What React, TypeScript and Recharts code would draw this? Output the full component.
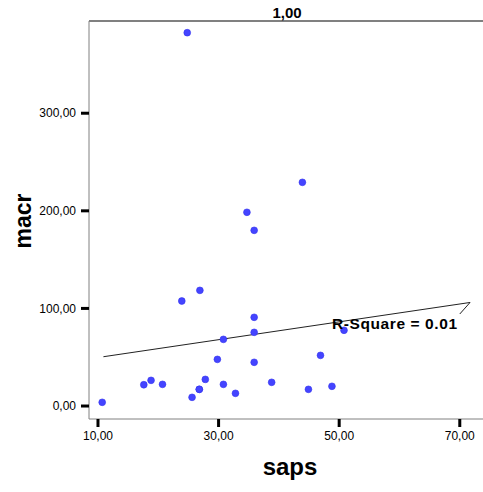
import React from "react";
import {
  ScatterChart,
  Scatter,
  XAxis,
  YAxis,
  ReferenceLine,
} from "recharts";

// saps / macr pairs
const sapsValues = [10.7, 17.6, 18.8, 20.7, 25.6, 26.8, 26.8, 27.8, 29.8, 30.8, 30.8, 32.8, 35.9, 35.9, 35.9, 38.8, 44.9, 46.9, 48.8, 50.8, 23.9, 24.8, 43.9, 34.7, 35.9, 26.9];
const macrValues = [3.8, 21.8, 26.3, 22.2, 8.9, 17.1, 17.1, 27.3, 47.8, 68.3, 22.2, 13.0, 90.9, 75.5, 44.8, 24.3, 17.1, 51.9, 20.2, 77.6, 107.6, 382.5, 229.2, 198.5, 180.0, 118.5];

const xTicks = [10, 30, 50, 70];
const yTicks = [0, 100, 200, 300];

// linear fit line ends and the leader to the R-Square label
const fitLine = [
  { x: 10.9, y: 50.5 },
  { x: 71.7, y: 106.1 },
];
const leaderLine = [
  { x: 71.7, y: 106.1 },
  { x: 70.0, y: 94.3 },
];

const points = sapsValues.map((s, i) => ({ saps: s, macr: macrValues[i] }));

const fmt = (v: number) => v.toFixed(2).replace(".", ",");
const FONT = "'Liberation Sans', Arial, sans-serif";
const FRAME = "#808080";

const Dot = (props: any) => {
  const { cx, cy } = props;
  if (cx == null || cy == null) return <g />;
  return <circle cx={cx} cy={cy} r={3.4} fill="#4444ff" stroke="#3333ee" strokeWidth={0.6} />;
};

export default function App() {
  return (
    <div style={{ position: "absolute", left: 0, top: 0, width: 483, height: 492, background: "#fff" }}>
      <ScatterChart width={483} height={492} margin={{ top: 21, right: 0, bottom: 0, left: 0 }}>
        <XAxis
          type="number"
          dataKey="saps"
          domain={[8.51, 73.85]}
          allowDataOverflow
          ticks={xTicks}
          tickFormatter={fmt}
          height={73}
          tickSize={8}
          tickMargin={4}
          axisLine={{ stroke: FRAME, strokeWidth: 1 }}
          tickLine={{ stroke: "#000", strokeWidth: 3 }}
          tick={{ fontSize: 12, fill: "#000", fontFamily: FONT }}
        />
        <YAxis
          type="number"
          dataKey="macr"
          domain={[-13.3, 394.5]}
          allowDataOverflow
          ticks={yTicks}
          tickFormatter={fmt}
          width={89}
          tickSize={8}
          tickMargin={5}
          axisLine={{ stroke: FRAME, strokeWidth: 1 }}
          tickLine={{ stroke: "#000", strokeWidth: 3 }}
          tick={{ fontSize: 12, fill: "#000", fontFamily: FONT }}
        />
        <ReferenceLine y={394.5} stroke={FRAME} strokeWidth={2} ifOverflow="visible" />
        <ReferenceLine segment={fitLine} stroke="#222" strokeWidth={1} ifOverflow="visible" />
        <ReferenceLine segment={leaderLine} stroke="#222" strokeWidth={1} ifOverflow="visible" />
        <Scatter data={points} shape={Dot} isAnimationActive={false} />
      </ScatterChart>
      <svg
        width={483}
        height={492}
        style={{ position: "absolute", left: 0, top: 0, pointerEvents: "none" }}
        fontFamily={FONT}
      >
        <text x={287} y={18} textAnchor="middle" fontSize={15} fontWeight="bold">1,00</text>
        <text x={31} y={221} textAnchor="middle" fontSize={23} fontWeight="bold" transform="rotate(-90 31 221)">macr</text>
        <text x={290} y={475} textAnchor="middle" fontSize={24} fontWeight="bold">saps</text>
        <text x={332} y={329} fontSize={15.5} fontWeight="bold" textLength={125} lengthAdjust="spacing">R-Square = 0.01</text>
      </svg>
    </div>
  );
}
